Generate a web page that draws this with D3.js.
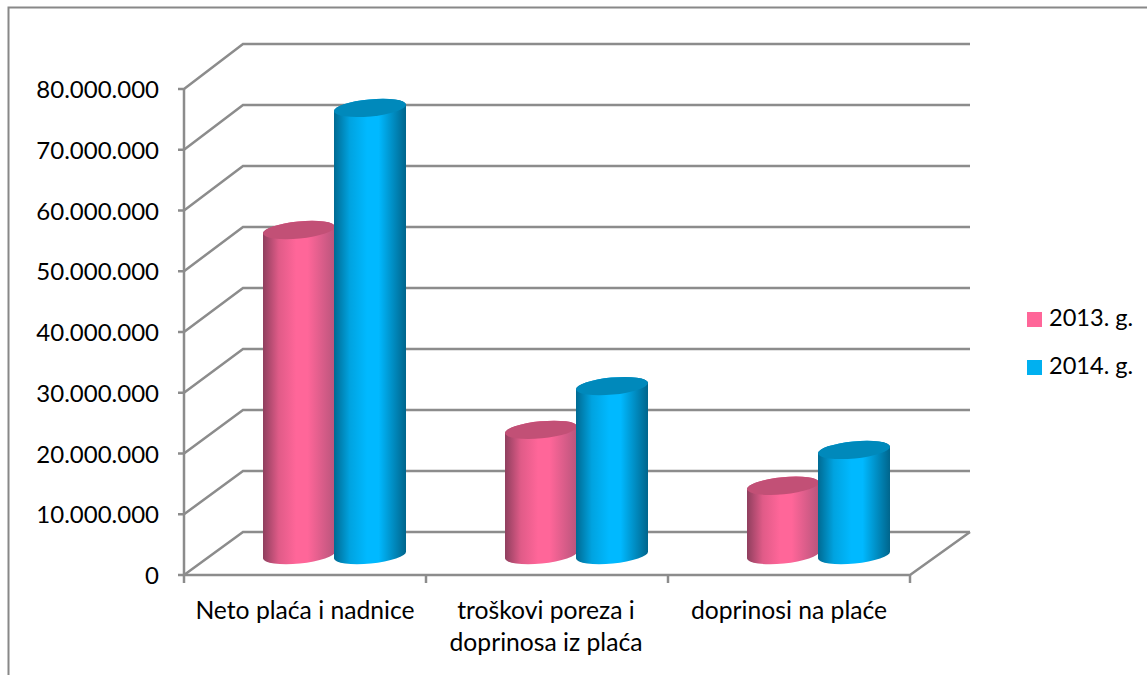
<!DOCTYPE html>
<html>
<head>
<meta charset="utf-8">
<script src="https://cdn.jsdelivr.net/npm/d3@7"></script>
<style>
html, body { margin: 0; padding: 0; background: #fff; }
svg { display: block; }
text { font-family: Lato, sans-serif; font-size: 24px; fill: #000; }
.cat-label { font-size: 24.7px; }
.legend-label { font-size: 23.6px; }
</style>
</head>
<body>
<script>
var categories = [['Neto plaća i nadnice'], ['troškovi poreza i', 'doprinosa iz plaća'], ['doprinosi na plaće']];
var years = ['2013. g.', '2014. g.'];
var values2013 = [53500000, 20600000, 11400000];
var values2014 = [73600000, 27800000, 17300000];
var yTicks = [0, 10000000, 20000000, 30000000, 40000000, 50000000, 60000000, 70000000, 80000000];

var width = 1147, height = 675;
var gridColor = '#8c8c8c';

var svg = d3.select('body').append('svg')
    .attr('width', width)
    .attr('height', height);

// Cylinder shading, dark at both edges
var shades = [
    { id: 'pink', left: '#8f3f5e', mid: '#ff6699', right: '#b9557c' },
    { id: 'blue', left: '#006a92', mid: '#00b9ff', right: '#00658c' }
];
var defs = svg.append('defs');
shades.forEach(function(s) {
    var g = defs.append('linearGradient').attr('id', 'grad-' + s.id);
    g.append('stop').attr('offset', '0%').attr('stop-color', s.left);
    g.append('stop').attr('offset', '22%').attr('stop-color', d3.interpolateRgb(s.left, s.mid)(0.72));
    g.append('stop').attr('offset', '46%').attr('stop-color', s.mid);
    g.append('stop').attr('offset', '62%').attr('stop-color', s.mid);
    g.append('stop').attr('offset', '100%').attr('stop-color', s.right);
});
var topColors = ['#c25076', '#0089bb'];
var legendColors = ['#ff6699', '#00b0f0'];

// Chart frame, only top and left are inside the picture
svg.append('path')
    .attr('d', 'M8.5,675V7.5H1147')
    .attr('fill', 'none')
    .attr('stroke', '#888')
    .attr('stroke-width', 2);

var y = d3.scaleLinear().domain([0, 80000000]).range([575, 89]);
var yBack = d3.scaleLinear().domain([0, 80000000]).range([532, 44]);
var x = d3.scaleBand().domain(d3.range(categories.length)).range([184, 910]);
var fmt = function(v) { return d3.format(',')(v).replace(/,/g, '.'); };

// Walls and gridlines
var grid = svg.append('g')
    .attr('fill', 'none')
    .attr('stroke', gridColor)
    .attr('stroke-width', 2.5);

yTicks.forEach(function(t) {
    grid.append('path').attr('d', d3.line()([[178, y(t)], [184, y(t)], [243, yBack(t)], [970, yBack(t)]]));
});
grid.append('path').attr('d', d3.line()([[184, y(80000000)], [184, y(0)], [910, y(0)], [970, yBack(0)]]));
x.domain().concat([categories.length]).forEach(function(i) {
    var xx = i < categories.length ? x(i) : 910;
    grid.append('line').attr('x1', xx).attr('x2', xx).attr('y1', y(0)).attr('y2', y(0) + 8);
});

// Y tick labels
svg.selectAll('.y-label')
    .data(yTicks)
    .enter()
    .append('text')
    .attr('class', 'y-label')
    .attr('x', 159)
    .attr('y', function(d) { return y(d) + 9; })
    .attr('text-anchor', 'end')
    .text(fmt);

// Category labels
categories.forEach(function(lines, i) {
    var cx = x(i) + x.bandwidth() / 2;
    lines.forEach(function(line, k) {
        svg.append('text')
            .attr('class', 'cat-label')
            .attr('x', cx + (lines.length > 1 ? -1 : 0))
            .attr('y', 619 + k * 32)
            .attr('text-anchor', 'middle')
            .text(line);
    });
});

// Cylinders
var rx = 36, ry = 8.5, tilt = 3.5;
var baseShift = 29.5, baseLift = 20, seriesStep = 35.5;
var rot = -Math.atan2(tilt, rx) * 180 / Math.PI;

function drawCylinder(cx, value, colorIdx) {
    var yBase = y(0) - baseLift;
    var yTop = y(value) - baseLift;
    var arc = 'A' + rx + ',' + ry + ' ' + rot + ' 0 ';
    svg.append('path')
        .attr('d', 'M' + (cx - rx) + ',' + (yTop + tilt) +
            'L' + (cx - rx) + ',' + (yBase + tilt) +
            arc + '0 ' + (cx + rx) + ',' + (yBase - tilt) +
            'L' + (cx + rx) + ',' + (yTop - tilt) +
            arc + '0 ' + (cx - rx) + ',' + (yTop + tilt) + 'Z')
        .attr('fill', 'url(#grad-' + shades[colorIdx].id + ')');
    svg.append('path')
        .attr('d', 'M' + (cx - rx) + ',' + (yTop + tilt) +
            arc + '1 ' + (cx + rx) + ',' + (yTop - tilt) +
            arc + '1 ' + (cx - rx) + ',' + (yTop + tilt) + 'Z')
        .attr('fill', topColors[colorIdx]);
}

categories.forEach(function(c, i) {
    var cx = x(i) + x.bandwidth() / 2 + baseShift;
    drawCylinder(cx - seriesStep, values2013[i], 0);
    drawCylinder(cx + seriesStep, values2014[i], 1);
});

// Legend
years.forEach(function(name, i) {
    var top = 312 + i * 48;
    svg.append('rect')
        .attr('x', 1027).attr('y', top)
        .attr('width', 15).attr('height', 15)
        .attr('fill', legendColors[i]);
    svg.append('text')
        .attr('class', 'legend-label')
        .attr('x', 1049).attr('y', top + 14)
        .text(name);
});
</script>
</body>
</html>
